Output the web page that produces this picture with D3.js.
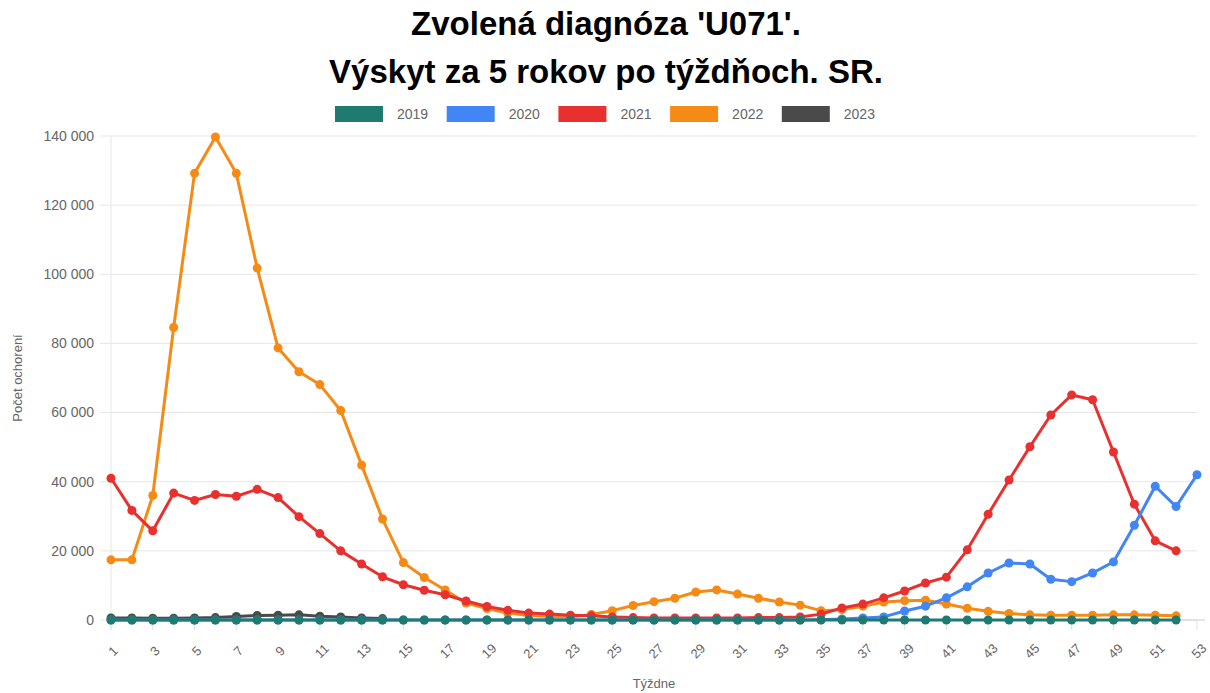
<!DOCTYPE html>
<html>
<head>
<meta charset="utf-8">
<script src="https://cdn.jsdelivr.net/npm/d3@7"></script>
<style>
  html, body { margin: 0; padding: 0; background: #fff; }
  svg { display: block; font-family: "Liberation Sans", Arial, sans-serif; }
</style>
</head>
<body>
<svg id="chart" width="1210" height="693"></svg>
<script>
const titleLines = ["Zvolená diagnóza 'U071'.", "Výskyt za 5 rokov po týždňoch. SR."];
const yAxisTitle = "Počet ochorení";
const xAxisTitle = "Týždne";
const years = ["2019", "2020", "2021", "2022", "2023"];
const colors = ["#1f7b71", "#4285f4", "#e8302f", "#f58a15", "#4a4a4a"];
const yTicks = [0, 20000, 40000, 60000, 80000, 100000, 120000, 140000];
const xTicks = [1,3,5,7,9,11,13,15,17,19,21,23,25,27,29,31,33,35,37,39,41,43,45,47,49,51,53];

const v2019 = [0,0,0,0,0,0,0,0,0,0,0,0,0,0,0,0,0,0,0,0,0,0,0,0,0,0,0,0,0,0,0,0,0,0,0,0,0,0,0,0,0,0,0,0,0,0,0,0,0,0,0,0];
const v2020 = [0,0,0,0,0,0,0,0,0,0,0,0,0,0,0,0,0,0,0,0,0,0,0,0,0,0,0,0,0,0,0,0,0,0,100,300,600,900,2600,4000,6400,9600,13600,16500,16200,11800,11100,13600,16800,27400,38700,32800,42000];
const v2021 = [41000,31700,25800,36700,34600,36300,35800,37800,35400,29900,25000,20000,16200,12500,10200,8600,7300,5500,3900,2800,2000,1700,1400,1200,900,700,600,600,600,600,600,700,700,900,1700,3500,4600,6400,8400,10700,12400,20300,30600,40500,50100,59300,65100,63700,48600,33500,22900,20000];
const v2022 = [17400,17400,36000,84600,129200,139700,129200,101800,78700,71800,68100,60600,44800,29200,16600,12300,8700,4900,3300,2000,1300,1000,900,1600,2700,4200,5300,6300,8100,8700,7500,6300,5200,4300,2700,3000,4000,5200,5600,5700,4600,3400,2500,1900,1500,1400,1400,1400,1500,1500,1400,1200];
const v2023 = [600,600,500,500,600,700,1000,1300,1400,1500,1100,900,600,400];

const seriesValues = [v2019, v2020, v2021, v2022, v2023];

const svg = d3.select("#chart");
const x = d3.scaleLinear().domain([1, 53]).range([111, 1197]);
const y = d3.scaleLinear().domain([0, 140000]).range([620, 136]);
const fmt = v => d3.format(",")(v).replace(/,/g, " ");

// Titles
svg.selectAll("text.title").data(titleLines).enter().append("text")
  .attr("x", 606).attr("y", (d, i) => 35 + i * 48)
  .attr("text-anchor", "middle")
  .attr("font-size", 33).attr("font-weight", "bold").attr("fill", "#000")
  .text(d => d);

// Legend
const leg = svg.append("g");
years.forEach((yr, i) => {
  const lx = 335 + i * 111.7;
  leg.append("rect").attr("x", lx).attr("y", 106).attr("width", 48).attr("height", 16).attr("fill", colors[i]);
  leg.append("text").attr("x", lx + 62).attr("y", 119).attr("font-size", 14).attr("fill", "#666").text(yr);
});

// Gridlines
const grid = svg.append("g");
grid.selectAll("line").data(yTicks).enter().append("line")
  .attr("x1", 100).attr("x2", 1197)
  .attr("y1", d => y(d)).attr("y2", d => y(d))
  .attr("stroke", "#e6e6e6").attr("stroke-width", 1);
// y-axis vertical line
svg.append("line").attr("x1", x(1)).attr("x2", x(1)).attr("y1", y(140000)).attr("y2", y(0) + 10)
  .attr("stroke", "#e6e6e6");
// x tick marks
svg.append("g").selectAll("line").data(xTicks).enter().append("line")
  .attr("x1", d => x(d)).attr("x2", d => x(d)).attr("y1", y(0)).attr("y2", y(0) + 10)
  .attr("stroke", "#e0e0e0");
// baseline
svg.append("line").attr("x1", x(1)).attr("x2", 1205).attr("y1", y(0)).attr("y2", y(0)).attr("stroke", "#cccccc");

// Y tick labels
svg.append("g").selectAll("text").data(yTicks).enter().append("text")
  .attr("x", 94).attr("y", d => y(d)).attr("dy", "0.35em")
  .attr("text-anchor", "end").attr("font-size", 14).attr("fill", "#666")
  .text(d => fmt(d));

// X tick labels (slanted)
svg.append("g").selectAll("text").data(xTicks).enter().append("text")
  .attr("transform", d => `translate(${x(d) + 2},${651}) rotate(-45)`)
  .attr("text-anchor", "middle").attr("dy", "0.35em")
  .attr("font-size", 13).attr("fill", "#666")
  .text(d => d);

// Axis titles
svg.append("text").attr("x", 654).attr("y", 688).attr("text-anchor", "middle")
  .attr("font-size", 13).attr("fill", "#666").text(xAxisTitle);
svg.append("text").attr("transform", "translate(22,378) rotate(-90)").attr("text-anchor", "middle")
  .attr("font-size", 13).attr("fill", "#666").text(yAxisTitle);

// Series (draw order: 2023, 2022, 2021, 2020, 2019)
const line = d3.line().x((d, i) => x(i + 1)).y(d => y(d));
const order = [4, 3, 2, 1, 0];
order.forEach(si => {
  const vals = seriesValues[si];
  const g = svg.append("g");
  g.append("path").datum(vals).attr("d", line)
    .attr("fill", "none").attr("stroke", colors[si]).attr("stroke-width", 3)
    .attr("stroke-linejoin", "round");
  g.selectAll("circle").data(vals).enter().append("circle")
    .attr("cx", (d, i) => x(i + 1)).attr("cy", d => y(d)).attr("r", 4.5)
    .attr("fill", colors[si]);
});
</script>
</body>
</html>
